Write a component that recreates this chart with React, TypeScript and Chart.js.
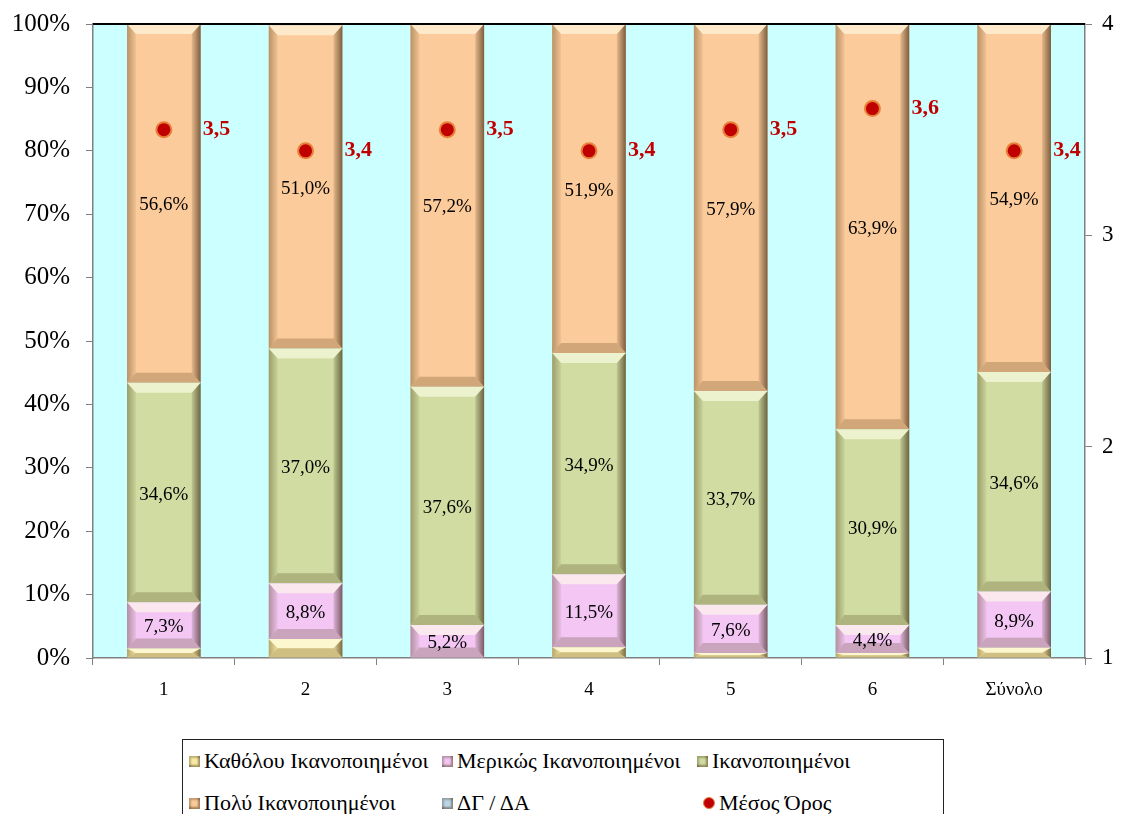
import React, { useEffect, useRef } from "react";
import { Chart, registerables } from "chart.js";

Chart.register(...registerables);

const categories = ["1", "2", "3", "4", "5", "6", "Σύνολο"];
const katholou = [1.5, 3.0, 0, 1.7, 0.8, 0.8, 1.6];
const merikos = [7.3, 8.8, 5.2, 11.5, 7.6, 4.4, 8.9];
const ikanopoiimenoi = [34.6, 37.0, 37.6, 34.9, 33.7, 30.9, 34.6];
const poly = [56.6, 51.0, 57.2, 51.9, 57.9, 63.9, 54.9];
const dgda = [0, 0.2, 0, 0, 0, 0, 0];
const mesosOros = [3.5, 3.4, 3.5, 3.4, 3.5, 3.6, 3.4];
const seriesNames = [
  "Καθόλου Ικανοποιημένοι",
  "Μερικώς Ικανοποιημένοι",
  "Ικανοποιημένοι",
  "Πολύ Ικανοποιημένοι",
  "ΔΓ / ΔΑ",
  "Μέσος Όρος",
];
const colors = ["#f9eaa6", "#f3c6f3", "#d0dca2", "#fccb9b", "#bcd6ea"];
const labelled = [false, true, true, true, false];

const SERIF = "'Liberation Serif', 'Times New Roman', serif";
const fmt = (v: number, d = 1) => v.toFixed(d).replace(".", ",");

const bevelPlugin = {
  id: "bevel",
  afterDatasetsDraw(chart: any) {
    const ctx = chart.ctx;
    ctx.save();
    for (let di = 0; di < 5; di++) {
      const meta = chart.getDatasetMeta(di);
      meta.data.forEach((el: any) => {
        const p = el.getProps(["x", "y", "base", "width"], true);
        const top = Math.min(p.y, p.base);
        const bot = Math.max(p.y, p.base);
        const h = bot - top;
        if (h < 0.5) return;
        const l = p.x - p.width / 2;
        const r = p.x + p.width / 2;
        const bv = Math.min(10, h / 2);
        const bh = Math.min(9, p.width / 2);
        ctx.fillStyle = "rgba(255,255,235,0.6)";
        ctx.beginPath();
        ctx.moveTo(l, top);
        ctx.lineTo(r, top);
        ctx.lineTo(r - bh, top + bv);
        ctx.lineTo(l + bh, top + bv);
        ctx.closePath();
        ctx.fill();
        ctx.fillStyle = "rgba(60,40,0,0.22)";
        ctx.beginPath();
        ctx.moveTo(l, bot);
        ctx.lineTo(r, bot);
        ctx.lineTo(r - bh, bot - bv);
        ctx.lineTo(l + bh, bot - bv);
        ctx.closePath();
        ctx.fill();
        const gl = ctx.createLinearGradient(l, 0, l + bh, 0);
        gl.addColorStop(0, "rgba(60,40,0,0.35)");
        gl.addColorStop(1, "rgba(60,40,0,0.05)");
        ctx.fillStyle = gl;
        ctx.beginPath();
        ctx.moveTo(l, top);
        ctx.lineTo(l + bh, top + bv);
        ctx.lineTo(l + bh, bot - bv);
        ctx.lineTo(l, bot);
        ctx.closePath();
        ctx.fill();
        const gr = ctx.createLinearGradient(r - bh, 0, r, 0);
        gr.addColorStop(0, "rgba(40,20,0,0.1)");
        gr.addColorStop(1, "rgba(40,20,0,0.6)");
        ctx.fillStyle = gr;
        ctx.beginPath();
        ctx.moveTo(r, top);
        ctx.lineTo(r - bh, top + bv);
        ctx.lineTo(r - bh, bot - bv);
        ctx.lineTo(r, bot);
        ctx.closePath();
        ctx.fill();
      });
    }
    ctx.restore();
  },
};

const labelPlugin = {
  id: "labels",
  afterDraw(chart: any) {
    const ctx = chart.ctx;
    const ca = chart.chartArea;
    ctx.save();
    ctx.strokeStyle = "#000000";
    ctx.lineWidth = 2;
    ctx.beginPath();
    ctx.moveTo(ca.left, ca.top);
    ctx.lineTo(ca.right, ca.top);
    ctx.stroke();
    ctx.textBaseline = "middle";
    for (let di = 0; di < 5; di++) {
      if (!labelled[di]) continue;
      const meta = chart.getDatasetMeta(di);
      const data = chart.data.datasets[di].data;
      meta.data.forEach((el: any, i: number) => {
        const p = el.getProps(["x", "y", "base"], true);
        ctx.font = `19px ${SERIF}`;
        ctx.fillStyle = "#000000";
        ctx.textAlign = "center";
        ctx.fillText(fmt(data[i]) + "%", p.x, (p.y + p.base) / 2 + 2);
      });
    }
    const lm = chart.getDatasetMeta(5);
    lm.data.forEach((el: any, i: number) => {
      ctx.font = `bold 22px ${SERIF}`;
      ctx.fillStyle = "#c00000";
      ctx.textAlign = "left";
      ctx.fillText(fmt(mesosOros[i]), el.x + 39, el.y);
    });
    ctx.restore();
  },
};

function LegendBox() {
  const cols = [188, 441, 696];
  const rows = [760, 802];
  const items = seriesNames.map((name, i) => {
    const col = i < 3 ? cols[i] : cols[i - 3];
    const row = i < 3 ? rows[0] : rows[1];
    return { name, col, row, i };
  });
  return (
    <div
      style={{
        position: "absolute",
        left: 182,
        top: 739,
        width: 762,
        height: 90,
        border: "1.5px solid #222",
        boxSizing: "border-box",
      }}
    >
      {items.map((it) => (
        <div
          key={it.name}
          style={{
            position: "absolute",
            left: it.col - 182,
            top: it.row - 739 - 13,
            height: 26,
            display: "flex",
            alignItems: "center",
            fontFamily: SERIF,
            fontSize: 22,
            color: "#000",
            whiteSpace: "nowrap",
          }}
        >
          {it.i < 5 ? (
            <span
              style={{
                display: "inline-block",
                width: 11,
                height: 11,
                marginRight: 4,
                background: colors[it.i],
                boxShadow: "inset -2px -2px 2px rgba(60,40,0,0.45), inset 2px 2px 2px rgba(60,40,0,0.3)",
              }}
            />
          ) : (
            <span
              style={{
                display: "inline-block",
                width: 10,
                height: 10,
                marginRight: 4,
                marginLeft: 6,
                borderRadius: "50%",
                background: "#c00000",
                border: "1.5px solid #e8803a",
              }}
            />
          )}
          {it.name}
        </div>
      ))}
    </div>
  );
}

export default function App() {
  const ref = useRef<HTMLCanvasElement | null>(null);
  useEffect(() => {
    document.body.style.margin = "0";
    if (!ref.current) return;
    const barSets = [katholou, merikos, ikanopoiimenoi, poly, dgda].map((d, i) => ({
      type: "bar" as const,
      label: seriesNames[i],
      data: d,
      backgroundColor: colors[i],
      borderWidth: 0,
      yAxisID: "y",
      stack: "s",
      order: 2,
    }));
    const chart = new Chart(ref.current, {
      type: "bar",
      data: {
        labels: categories,
        datasets: [
          ...barSets,
          {
            type: "line" as const,
            label: seriesNames[5],
            data: mesosOros,
            yAxisID: "y1",
            showLine: false,
            pointRadius: 7.5,
            pointBackgroundColor: "#c00000",
            pointBorderColor: "#e8803a",
            pointBorderWidth: 2,
            order: 1,
          } as any,
        ],
      },
      options: {
        animation: false,
        responsive: false,
        maintainAspectRatio: false,
        layout: { padding: { top: 17, left: 0, right: 0, bottom: 0 } },
        plugins: { legend: { display: false }, tooltip: { enabled: false } },
        datasets: { bar: { categoryPercentage: 0.52, barPercentage: 1 } },
        scales: {
          x: {
            stacked: true,
            grid: {
              offset: true,
              drawOnChartArea: false,
              drawTicks: true,
              tickLength: 7,
              color: "#808080",
            },
            border: { color: "#808080", width: 1.5 },
            ticks: { font: { family: SERIF, size: 19 }, color: "#000", padding: 14 },
            afterFit(s: any) {
              s.height = 62;
            },
          },
          y: {
            stacked: true,
            position: "left",
            min: 0,
            max: 100,
            grid: { drawOnChartArea: false, drawTicks: true, tickLength: 7, color: "#808080" },
            border: { color: "#808080", width: 1.5 },
            ticks: {
              stepSize: 10,
              font: { family: SERIF, size: 25 },
              color: "#000",
              padding: 16,
              callback: (v: any) => v + "%",
            },
            afterFit(s: any) {
              s.width = 93;
            },
          },
          y1: {
            position: "right",
            min: 1,
            max: 4,
            grid: { drawOnChartArea: false, drawTicks: true, tickLength: 7, color: "#808080" },
            border: { color: "#808080", width: 1.5 },
            ticks: {
              stepSize: 1,
              font: { family: SERIF, size: 23 },
              color: "#000",
              padding: 10,
            },
            afterFit(s: any) {
              s.width = 39;
            },
          },
        },
      },
      plugins: [
        {
          id: "bg",
          beforeDraw(chart: any) {
            const ca = chart.chartArea;
            chart.ctx.save();
            chart.ctx.fillStyle = "#ccffff";
            chart.ctx.fillRect(ca.left, ca.top, ca.right - ca.left, ca.bottom - ca.top);
            chart.ctx.restore();
          },
        },
        bevelPlugin,
        labelPlugin,
      ],
    } as any);
    return () => chart.destroy();
  }, []);
  return (
    <div style={{ position: "relative", width: 1124, height: 814, overflow: "hidden", background: "#fff" }}>
      <canvas ref={ref} width={1124} height={727} style={{ position: "absolute", left: 0, top: -7 }} />
      <LegendBox />
    </div>
  );
}
